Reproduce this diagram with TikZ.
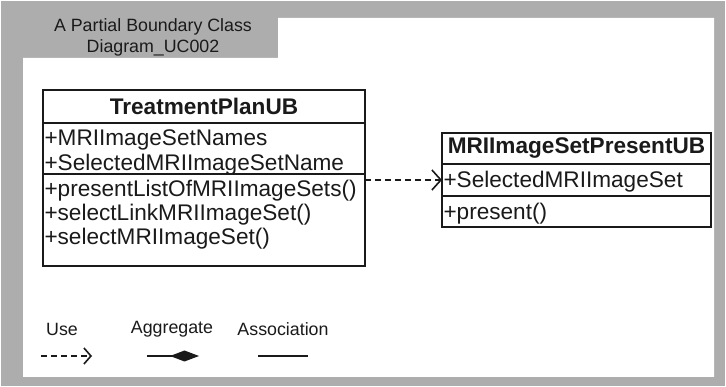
\documentclass[tikz,border=0pt]{standalone}
\usepackage{fontspec}
\setmainfont{Liberation Sans}
\usetikzlibrary{positioning,arrows.meta}
\definecolor{framegray}{HTML}{ADADAD}
\definecolor{ink}{HTML}{1A1A1A}

\begin{document}
\begin{tikzpicture}[x=1pt,y=-1pt,
            namecell/.style={rectangle, draw=ink, line width=2pt, outer sep=0pt, inner sep=0pt, anchor=north, font=\fontsize{22.6}{24}\selectfont\bfseries, text=ink},
            membercell/.style={rectangle, draw=ink, line width=2pt, outer sep=0pt, inner xsep=1.5pt, inner ysep=0pt, align=left, text=ink},
            legendtext/.style={font=\fontsize{17.8}{21}\selectfont, text=ink},
            usedep/.style={ink, line width=1.6pt, dash pattern=on 6pt off 4pt, -{Straight Barb[length=9pt, width=20pt, line width=1.6pt]}},
        ]
        \useasboundingbox (0,0) rectangle (726,387);

        % frame with title tab
        \fill[framegray] (1,1) rectangle (725,386);
        \fill[white] (23,58) -| (278,18) -| (714,377) -| (23,58) -- cycle;
        \node[legendtext, align=center] (tabtitle) at (153,37) {A Partial Boundary Class\\Diagram\_UC002};

        % TreatmentPlanUB
        \node[namecell, minimum width=322pt, minimum height=33pt] (tp-name) at (204,90) {TreatmentPlanUB};
        \node[membercell, text width=319pt, text height=23pt, text depth=28pt, font=\fontsize{22.6}{25}\selectfont] (tp-attr) [below=0pt of tp-name] {+MRIImageSetNames\\+SelectedMRIImageSetName};
        \node[membercell, text width=319pt, text height=23pt, text depth=69pt, font=\fontsize{22.6}{24}\selectfont] (tp-ops) [below=0pt of tp-attr] {+presentListOfMRIImageSets()\\+selectLinkMRIImageSet()\\+selectMRIImageSet()};

        % MRIImageSetPresentUB
        \node[namecell, minimum width=269pt, minimum height=31pt] (mp-name) at (576.5,133) {MRIImageSetPresentUB};
        \node[membercell, text width=266pt, text height=24pt, text depth=8pt, font=\fontsize{22.6}{24}\selectfont] (mp-attr) [below=0pt of mp-name] {+SelectedMRIImageSet};
        \node[membercell, text width=266pt, text height=24pt, text depth=7pt, font=\fontsize{22.6}{24}\selectfont] (mp-ops) [below=0pt of mp-attr] {+present()};

        \draw[usedep] (tp-ops.east |- mp-attr.west) -- (mp-attr.west);

        % legend
        \node[legendtext] (use-lbl) at (62,329) {Use};
        \node[legendtext] (agg-lbl) at (172,329) {Aggregate};
        \node[legendtext] (assoc-lbl) at (283,329) {Association};
        \coordinate (use-a) at (41,356);
        \coordinate (use-b) at (92,356);
        \coordinate (agg-a) at (147,356);
        \coordinate (agg-b) at (199,356);
        \coordinate (assoc-a) at (258,356);
        \coordinate (assoc-b) at (308,356);
        \draw[ink, line width=1.6pt, dash pattern=on 6pt off 4pt, -{Straight Barb[length=7pt, width=16pt, line width=1.6pt]}] (use-a) -- (use-b);
        \draw[ink, line width=1.6pt, -{Diamond[length=29pt, width=11pt]}] (agg-a) -- (agg-b);
        \draw[ink, line width=1.6pt] (assoc-a) -- (assoc-b);

    \end{tikzpicture}
\end{document}
